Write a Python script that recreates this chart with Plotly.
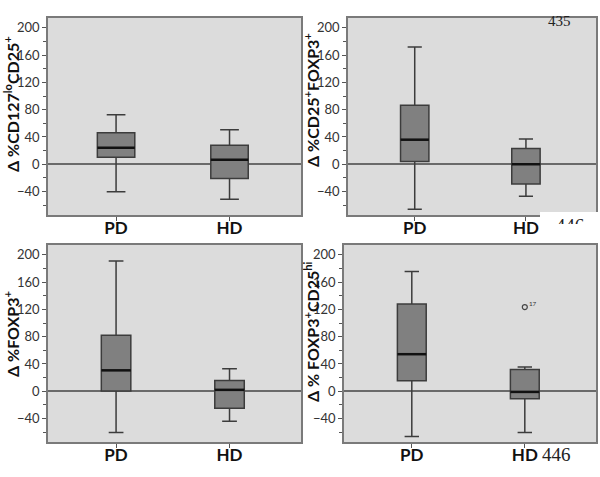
import plotly.graph_objects as go

W, H = 600, 477

categories = ["PD", "HD"]

# Panel data: lower whisker, Q1, median, Q3, upper whisker for [PD, HD]
p1_lower = [-40.5, -51.4]
p1_q1 = [10.4, -21.0]
p1_median = [24.2, 6.4]
p1_q3 = [46.0, 28.0]
p1_upper = [72.6, 50.4]

p2_lower = [-66.0, -47.0]
p2_q1 = [4.0, -29.0]
p2_median = [36.0, 0.0]
p2_q3 = [86.5, 23.0]
p2_upper = [172.0, 37.0]

p3_lower = [-60.5, -44.0]
p3_q1 = [0.5, -25.0]
p3_median = [30.6, 2.0]
p3_q3 = [82.0, 15.8]
p3_upper = [191.0, 33.0]

p4_lower = [-66.5, -60.5]
p4_q1 = [15.3, -10.9]
p4_median = [54.3, -1.0]
p4_q3 = [128.0, 32.0]
p4_upper = [175.5, 35.5]

p4_outlier_x = [1]
p4_outlier_y = [123.5]
p4_outlier_label = ["17"]

titles = [
    "Δ %CD127<sup>lo</sup>CD25<sup>+</sup>",
    "Δ %CD25<sup>+</sup>FOXP3<sup>+</sup>",
    "Δ %FOXP3<sup>+</sup>",
    "Δ % FOXP3<sup>+</sup>CD25<sup>hi</sup>",
]
# title centres in pixels (x, y from top)
title_pos = [(11, 104), (311, 100), (11, 334), (311, 332)]

y_ticks = [200, 160, 120, 80, 40, 0, -40]

panels = [
    (p1_lower, p1_q1, p1_median, p1_q3, p1_upper),
    (p2_lower, p2_q1, p2_median, p2_q3, p2_upper),
    (p3_lower, p3_q1, p3_median, p3_q3, p3_upper),
    (p4_lower, p4_q1, p4_median, p4_q3, p4_upper),
]

# pixel boxes of plot areas: (x0, x1, y0, y1) with y from top
areas = [
    (48, 301, 18, 215),
    (348, 596, 18, 215),
    (48, 301, 245, 442),
    (344, 596, 245, 442),
]
box_widths = [0.33, 0.255, 0.26, 0.255]

BG = "#dcdcdc"
BOXFILL = "#808080"
BOXLINE = "#3c3c3c"

fig = go.Figure()
layout = {}
shapes = []
annotations = []
for i, ((lo, q1, med, q3, up), (x0, x1, y0, y1), bw) in enumerate(zip(panels, areas, box_widths)):
    n = i + 1
    xa = "x" if n == 1 else f"x{n}"
    ya = "y" if n == 1 else f"y{n}"
    xs = list(range(len(categories)))
    fig.add_trace(go.Box(
        x=xs, q1=q1, median=med, q3=q3, lowerfence=lo, upperfence=up,
        width=bw, whiskerwidth=0.5, fillcolor=BOXFILL,
        line=dict(color=BOXLINE, width=1.5), boxpoints=False,
        xaxis=xa, yaxis=ya, showlegend=False, hoverinfo="skip",
    ))
    mx, my = [], []
    for xv, m in zip(xs, med):
        mx += [xv - bw / 2, xv + bw / 2, None]
        my += [m, m, None]
    fig.add_trace(go.Scatter(
        x=mx, y=my, mode="lines", line=dict(color="#111111", width=2.5),
        xaxis=xa, yaxis=ya, showlegend=False, hoverinfo="skip",
    ))
    kx = "xaxis" if n == 1 else f"xaxis{n}"
    ky = "yaxis" if n == 1 else f"yaxis{n}"
    layout[kx] = dict(
        domain=[x0 / W, x1 / W], range=[-0.6, 1.63], anchor=ya,
        tickvals=xs, ticktext=categories, ticks="outside", ticklen=4,
        tickcolor="#555", showgrid=False, zeroline=False,
        showline=True, mirror=True, linecolor="#7a7a7a", linewidth=1.5,
        ticklabelstandoff=-7,
        tickfont=dict(family="Lato", size=17, color="#111111", weight="bold"),
    )
    layout[ky] = dict(
        domain=[1 - y1 / H, 1 - y0 / H], range=[-74.5, 214.5], anchor=xa,
        tickvals=y_ticks, ticks="outside", ticklen=4, tickcolor="#555",
        minor=dict(dtick=20, tick0=0, ticks="outside", ticklen=3, tickcolor="#555"),
        showgrid=False, zeroline=True, zerolinecolor="#6a6a6a", zerolinewidth=1.5,
        showline=True, mirror=True, linecolor="#7a7a7a", linewidth=1.5,
        tickfont=dict(family="Lato", size=13, color="#333333"),
    )
    shapes.append(dict(type="rect", xref=f"{xa} domain", yref=f"{ya} domain",
                       x0=0, x1=1, y0=0, y1=1, fillcolor=BG, line=dict(width=0),
                       layer="below"))
    tx, ty = title_pos[i]
    annotations.append(dict(text=titles[i], x=tx / W, y=1 - ty / H, xref="paper", yref="paper",
                            textangle=-90, showarrow=False, xanchor="center", yanchor="middle",
                            font=dict(family="Lato", size=16, color="#111111", weight="bold")))

fig.add_trace(go.Scatter(
    x=p4_outlier_x, y=p4_outlier_y, mode="markers+text",
    marker=dict(symbol="circle-open", size=5, color="#444", line=dict(width=1.2)),
    text=["<sup>" + t + "</sup>" for t in p4_outlier_label], textposition="middle right",
    textfont=dict(family="Lato", size=9, color="#333"),
    xaxis="x4", yaxis="y4", showlegend=False, hoverinfo="skip",
))

# partially clipped page number between top-right and bottom-right panels
fig.add_trace(go.Scatter(
    x=[0.5], y=[0.5], mode="text", text=["446"], textposition="bottom center",
    textfont=dict(family="Liberation Serif", size=19, color="#222"),
    cliponaxis=True, xaxis="x5", yaxis="y5", showlegend=False, hoverinfo="skip",
))
layout["xaxis5"] = dict(domain=[540 / W, 600 / W], range=[0, 1], visible=False, anchor="y5")
layout["yaxis5"] = dict(domain=[1 - 224 / H, 1 - 212 / H], range=[0, 1], visible=False, anchor="x5")

annotations += [
    dict(text="435", x=573 / W, y=1 - 11 / H, xref="paper", yref="paper",
         showarrow=False, font=dict(family="Liberation Serif", size=15, color="#222")),
    dict(text="446", x=573 / W, y=1 - 467 / H, xref="paper", yref="paper",
         showarrow=False, font=dict(family="Liberation Serif", size=19, color="#222")),
]

fig.update_layout(
    width=W, height=H, margin=dict(l=0, r=0, t=0, b=0),
    paper_bgcolor="white", plot_bgcolor="white",
    **layout,
    shapes=shapes,
    annotations=annotations,
)

fig.write_html("out.html", config={"displayModeBar": False},
               post_script="document.body.style.margin='0';document.body.style.overflow='hidden';")
